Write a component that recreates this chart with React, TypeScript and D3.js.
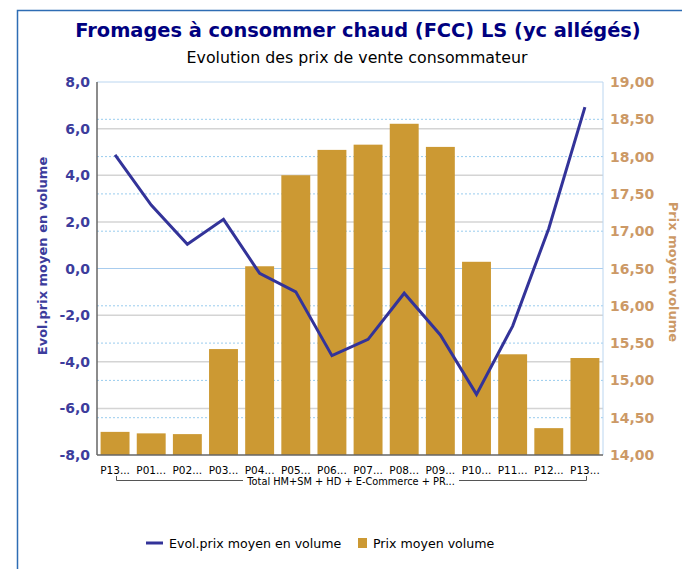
import React from "react";
import * as d3 from "d3";

// Periods (truncated labels as displayed on the axis)
const periods = ["P13...", "P01...", "P02...", "P03...", "P04...", "P05...", "P06...", "P07...", "P08...", "P09...", "P10...", "P11...", "P12...", "P13..."];
// Prix moyen volume (right axis, bars)
const prixMoyen = [14.31, 14.29, 14.28, 15.42, 16.53, 17.75, 18.09, 18.16, 18.44, 18.13, 16.59, 15.35, 14.36, 15.3];
// Evol. prix moyen en volume (left axis, line)
const evolPrix = [4.87, 2.72, 1.04, 2.11, -0.21, -1.0, -3.74, -3.04, -1.06, -2.85, -5.4, -2.47, 1.72, 6.92];
const leftTicks = [-8, -6, -4, -2, 0, 2, 4, 6, 8];
const rightTicks = [14, 14.5, 15, 15.5, 16, 16.5, 17, 17.5, 18, 18.5, 19];

const W = 682;
const H = 569;
const plot = { left: 97, right: 603, top: 82, bottom: 455 };

const FONT = "DejaVu Sans, Verdana, sans-serif";
const NAVY = "#000080";
const LINE = "#333399";
const BAR = "#CC9933";
const TAN = "#CC9966";

export default function App() {
  const x = d3
    .scaleBand<number>()
    .domain(d3.range(periods.length))
    .range([plot.left, plot.right])
    .paddingInner(0.2)
    .paddingOuter(0.1);
  const yL = d3.scaleLinear().domain([-8, 8]).range([plot.bottom, plot.top]);
  const yR = d3.scaleLinear().domain([14, 19]).range([plot.bottom, plot.top]);

  const line = d3
    .line<number>()
    .x((_, i) => (x(i) as number) + x.bandwidth() / 2)
    .y((d) => yL(d));

  const fmtL = (v: number) => v.toFixed(1).replace(".", ",");
  const fmtR = (v: number) => v.toFixed(2).replace(".", ",");

  return (
    <svg
      width={W}
      height={H}
      style={{ position: "absolute", left: 0, top: 0, background: "#fff" }}
      fontFamily={FONT}
    >
      {/* outer frame */}
      <path d={`M17.5,${H + 5} V10.5 H${W + 5}`} fill="none" stroke="#2E6DB4" strokeWidth={1.5} />

      {/* titles */}
      <text x={358} y={37} textAnchor="middle" fontSize={19.4} fontWeight="bold" fill={NAVY}>
        Fromages à consommer chaud (FCC) LS (yc allégés)
      </text>
      <text x={357} y={63} textAnchor="middle" fontSize={15.8} fill="#000">
        Evolution des prix de vente consommateur
      </text>

      {/* gridlines: left axis (solid gray) */}
      {leftTicks
        .filter((t) => t !== 0 && t !== 8 && t !== -8)
        .map((t) => (
          <line key={"gl" + t} x1={plot.left} x2={plot.right} y1={yL(t)} y2={yL(t)} stroke="#D4D4D4" strokeWidth={1.5} />
        ))}
      {/* gridlines: right axis (dotted blue) */}
      {rightTicks
        .filter((t) => t !== 16.5 && t !== 14 && t !== 19)
        .map((t) => (
          <line
            key={"gr" + t}
            x1={plot.left}
            x2={plot.right}
            y1={yR(t)}
            y2={yR(t)}
            stroke="#99CCEE"
            strokeWidth={1}
            strokeDasharray="2,2"
          />
        ))}
      <line x1={plot.left} x2={plot.right} y1={yL(0)} y2={yL(0)} stroke="#A8CCEE" strokeWidth={1} />
      <line x1={plot.left} x2={plot.right} y1={plot.top} y2={plot.top} stroke="#BBD6F0" strokeWidth={1} />
      <line x1={plot.right} x2={plot.right} y1={plot.top} y2={plot.bottom} stroke="#BBD6F0" strokeWidth={1} />

      {/* bars */}
      {prixMoyen.map((v, i) => (
        <rect key={"b" + i} x={x(i)} y={yR(v)} width={x.bandwidth()} height={plot.bottom - yR(v)} fill={BAR} />
      ))}

      {/* axis lines */}
      <line x1={plot.left} x2={plot.left} y1={plot.top} y2={plot.bottom} stroke="#666" strokeWidth={1.5} />
      <line x1={plot.left} x2={plot.right} y1={plot.bottom} y2={plot.bottom} stroke="#666" strokeWidth={1.5} />

      {/* line series */}
      <path d={line(evolPrix) ?? ""} fill="none" stroke={LINE} strokeWidth={3} strokeLinejoin="miter" />

      {/* left ticks */}
      {leftTicks.map((t) => (
        <text key={"tl" + t} x={90} y={yL(t) + 5} textAnchor="end" fontSize={14} fontWeight="bold" fill="#3C3C9C">
          {fmtL(t)}
        </text>
      ))}
      {/* right ticks */}
      {rightTicks.map((t) => (
        <text key={"tr" + t} x={610} y={yR(t) + 5} textAnchor="start" fontSize={14} fontWeight="bold" fill={TAN}>
          {fmtR(t)}
        </text>
      ))}

      {/* axis titles */}
      <text
        transform={`translate(47,256) rotate(-90)`}
        textAnchor="middle"
        fontSize={13}
        fontWeight="bold"
        fill="#3C3C9C"
      >
        Evol.prix moyen en volume
      </text>
      <text
        transform={`translate(669,272) rotate(90)`}
        textAnchor="middle"
        fontSize={13}
        fontWeight="bold"
        fill={TAN}
      >
        Prix moyen volume
      </text>

      {/* category labels */}
      {periods.map((p, i) => (
        <text key={"c" + i} x={(x(i) as number) + x.bandwidth() / 2} y={474} textAnchor="middle" fontSize={10.5} fill="#000">
          {p}
        </text>
      ))}

      {/* group bracket */}
      <path d="M116.5,476 V480.5 H243" fill="none" stroke="#555" strokeWidth={1} />
      <path d="M459,480.5 H586.5 V476" fill="none" stroke="#555" strokeWidth={1} />
      <text x={351} y={485} textAnchor="middle" fontSize={9.8} fill="#000">
        Total HM+SM + HD + E-Commerce + PR...
      </text>

      {/* legend */}
      <line x1={146} x2={163} y1={543} y2={543} stroke={LINE} strokeWidth={3} />
      <text x={169} y={548} fontSize={12.6} fill="#000">
        Evol.prix moyen en volume
      </text>
      <rect x={358} y={538} width={9} height={10} fill={BAR} />
      <text x={373} y={548} fontSize={12.6} fill="#000">
        Prix moyen volume
      </text>
    </svg>
  );
}
